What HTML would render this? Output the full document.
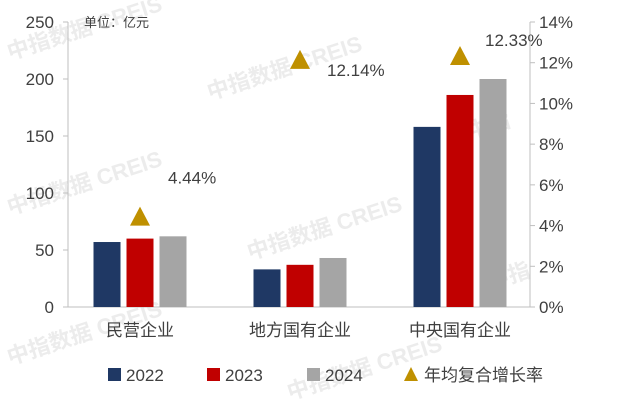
<!DOCTYPE html>
<html><head><meta charset="utf-8"><style>
body{margin:0;background:#fff;}
svg{display:block;font-family:"Liberation Sans","Noto Sans CJK SC",sans-serif;}
</style></head><body>
<svg id="c" width="617" height="403" viewBox="0 0 617 403">
<g fill="#ececec" font-size="22" font-weight="bold">
<text x="10" y="60" transform="rotate(-18 10 60)">中指数据 CREIS</text>
<text x="210" y="100" transform="rotate(-18 210 100)">中指数据 CREIS</text>
<text x="470" y="140" transform="rotate(-18 470 140)">中指</text>
<text x="10" y="215" transform="rotate(-18 10 215)">中指数据 CREIS</text>
<text x="250" y="260" transform="rotate(-18 250 260)">中指数据 CREIS</text>
<text x="490" y="290" transform="rotate(-18 490 290)">中指</text>
<text x="10" y="365" transform="rotate(-18 10 365)">中指数据 CREIS</text>
<text x="290" y="400" transform="rotate(-18 290 400)">中指数据 CREIS</text>
</g>
<text x="84" y="27" font-size="13" fill="#404040">单位：亿元</text>
<g id="axes"></g><g id="bars"></g><g id="marks"></g><g id="legend"></g>
</svg>
<script>
const categories=["民营企业","地方国有企业","中央国有企业"];
const years=["2022","2023","2024"];
const v2022=[57,33,158];
const v2023=[60,37,186];
const v2024=[62,43,200];
const growth=[4.44,12.14,12.33];
const leftTicks=[0,50,100,150,200,250];
const rightTicks=[0,2,4,6,8,10,12,14];
const colors=["#1F3864","#C00000","#A5A5A5"];
const NS="http://www.w3.org/2000/svg";
const yTop=22,yBot=307,xL=68,xR=530,bandStart=60,bandW=160;
const yL=v=>yBot-(v/250)*(yBot-yTop);
const yR=v=>yBot-(v/14)*(yBot-yTop);
const xC=i=>bandStart+bandW*(i+0.5);
function mk(tag,attrs,parent){const e=document.createElementNS(NS,tag);for(const k in attrs)e.setAttribute(k,attrs[k]);parent.appendChild(e);return e;}
const axes=document.getElementById('axes');
let a=mk('line',{x1:xL,x2:xL,y1:yTop,y2:yBot,stroke:'#bfbfbf'},axes);


a=mk('line',{x1:xR,x2:xR,y1:yTop,y2:yBot,stroke:'#bfbfbf'},axes);


a=mk('line',{x1:xL,x2:xR,y1:yBot,y2:yBot,stroke:'#bfbfbf'},axes);


leftTicks.forEach(t=>{
 const tk=mk('line',{x1:xL-5,x2:xL,y1:yL(t),y2:yL(t),stroke:'#bfbfbf'},axes);
 
 
 const tx=mk('text',{x:xL-14,y:yL(t)+6,'text-anchor':'end','font-size':17,fill:'#404040'},axes);
 tx.textContent=t;
 
 
});
rightTicks.forEach(t=>{
 const tk=mk('line',{x1:xR,x2:xR+5,y1:yR(t),y2:yR(t),stroke:'#bfbfbf'},axes);
 
 
 const tx=mk('text',{x:xR+9,y:yR(t)+6,'font-size':17,fill:'#404040'},axes);
 tx.textContent=t+'%';
 
 
});
categories.forEach((c,i)=>{
 const tx=mk('text',{x:xC(i),y:336,'text-anchor':'middle','font-size':17,fill:'#404040'},axes);
 tx.textContent=c;
 
 
});
const bars=document.getElementById('bars');
const series=[v2022,v2023,v2024];
const bw=27,gap=6;
series.forEach((s,k)=>{
 s.forEach((v,i)=>{
  const x=xC(i)+(k-1)*(bw+gap)-bw/2;
  const r=mk('rect',{x:x,y:yL(v),width:bw,height:yBot-yL(v),fill:colors[k]},bars);
  
  
 });
});
const marks=document.getElementById('marks');
const labelDx=[28,27,25],labelDy=[-33,16,-10];
growth.forEach((g,i)=>{
 const x=xC(i),y=yR(g);
 const p=mk('polygon',{points:`${x},${y-10} ${x-10},${y+9} ${x+10},${y+9}`,fill:'#BF9000'},marks);
 
 
 const tx=mk('text',{x:x+labelDx[i],y:y+labelDy[i],'font-size':17,fill:'#404040'},marks);
 tx.textContent=g.toFixed(2)+'%';
 
 
});
const lg=document.getElementById('legend');
const lx=[108,207,307];
years.forEach((y,k)=>{
 const r=mk('rect',{x:lx[k],y:368,width:13,height:13,fill:colors[k]},lg);
 
 
 const tx=mk('text',{x:lx[k]+18,y:381,'font-size':17,fill:'#404040'},lg);
 tx.textContent=y;
 
 
});
const lp=mk('polygon',{points:'411,367 404,381 418,381',fill:'#BF9000'},lg);


const lt=mk('text',{x:424,y:381,'font-size':17,fill:'#404040'},lg);
lt.textContent='年均复合增长率';


</script>
</body></html>
